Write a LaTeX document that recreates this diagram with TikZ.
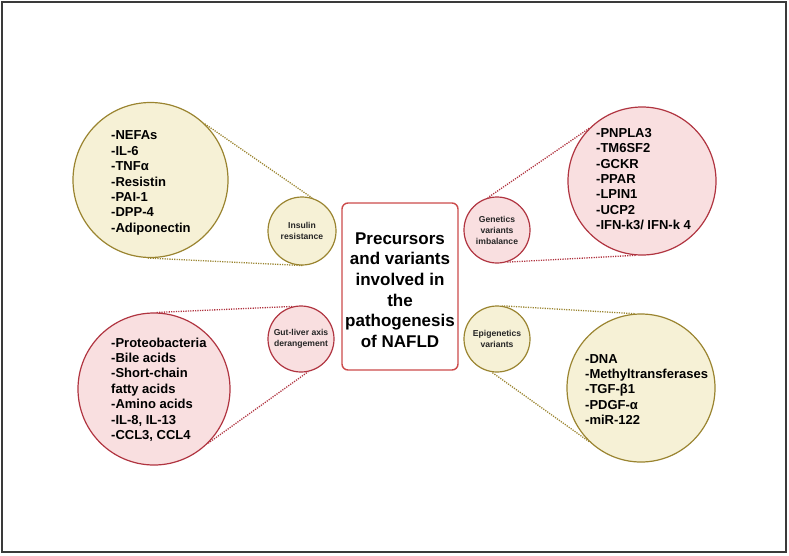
\documentclass[tikz,border=0pt]{standalone}
\usepackage{fontspec}
\setmainfont{Liberation Sans}
\definecolor{yfill}{HTML}{F6F1D6}
\definecolor{yline}{HTML}{9A8430}
\definecolor{pfill}{HTML}{F9DFE0}
\definecolor{pline}{HTML}{B03440}
\definecolor{boxline}{HTML}{CC4B4B}
\definecolor{framec}{HTML}{3A3A3A}
\begin{document}
\begin{tikzpicture}[x=1pt,y=-1pt,
  yc/.style={circle, draw=yline, fill=yfill, line width=1.2pt, inner sep=0pt},
  pc/.style={circle, draw=pline, fill=pfill, line width=1.2pt, inner sep=0pt},
  ydot/.style={draw=yline, line width=1.3pt, dash pattern=on 1.2pt off 1.2pt},
  pdot/.style={draw=pline, line width=1.3pt, dash pattern=on 1.2pt off 1.2pt},
  listtxt/.style={font=\bfseries\fontsize{13}{15.4}\selectfont, align=left, anchor=west, inner sep=0pt},
  smalltxt/.style={font=\bfseries\fontsize{8.6}{11}\selectfont, align=center, text=black!85, inner sep=0pt},
  centerbox/.style={draw=boxline, line width=1.4pt, rounded corners=6pt, fill=white},
  centertxt/.style={font=\bfseries\fontsize{17}{20.7}\selectfont, align=center, inner sep=0pt}]
\useasboundingbox (0,0) rectangle (789,555);
\draw[framec, line width=1.6pt] (2,2) rectangle (786,552);

% central box
\node[centerbox, minimum width=116pt, minimum height=167pt] (box) at (400,286.5) {};
\node[centertxt] (boxtxt) at (400,290) {Precursors\\and variants\\involved in\\the\\pathogenesis\\of NAFLD};

% big circles
\node[yc, minimum size=155pt] (ir) at (150.5,180) {};
\node[pc, minimum size=148pt] (gv) at (642,181) {};
\node[pc, minimum size=152pt] (gl) at (154,389) {};
\node[yc, minimum size=148pt] (ev) at (641,388) {};

% small circles
\node[yc, minimum size=68pt] (irs) at (302,231) {};
\node[pc, minimum size=66pt] (gvs) at (497,230) {};
\node[pc, minimum size=66pt] (gls) at (301,339) {};
\node[yc, minimum size=66pt] (evs) at (497,339) {};

% small circle labels
\node[smalltxt] (irt) at (irs) {Insulin\\resistance};
\node[smalltxt] (gvt) at (gvs) {Genetics\\variants\\imbalance};
\node[smalltxt] (glt) at (gls) {Gut-liver axis\\derangement};
\node[smalltxt] (evt) at (evs) {Epigenetics\\variants};

% dotted connectors
\draw[ydot] (ir.46) -- (irs.73);
\draw[ydot] (ir.-92) -- (irs.-88);
\draw[pdot] (gv.135) -- (gvs.106);
\draw[pdot] (gv.-95) -- (gvs.-73);
\draw[pdot] (gl.88) -- (gls.104);
\draw[pdot] (gl.-45) -- (gls.-78);
\draw[ydot] (ev.95) -- (evs.81);
\draw[ydot] (ev.-134) -- (evs.-99);

% lists
\node[listtxt] (irl) at (111,183) {-NEFAs\\-IL-6\\-TNFα\\-Resistin\\-PAI-1\\-DPP-4\\-Adiponectin};
\node[listtxt] (gvl) at (596,179) {-PNPLA3\\-TM6SF2\\-GCKR\\-PPAR\\-LPIN1\\-UCP2\\-IFN-k3/ IFN-k 4};
\node[listtxt] (gll) at (111,389.5) {-Proteobacteria\\-Bile acids\\-Short-chain\\fatty acids\\-Amino acids\\-IL-8, IL-13\\-CCL3, CCL4};
\node[listtxt] (evl) at (585,389.5) {-DNA\\-Methyltransferases\\-TGF-β1\\-PDGF-α\\-miR-122};
\end{tikzpicture}
\end{document}
